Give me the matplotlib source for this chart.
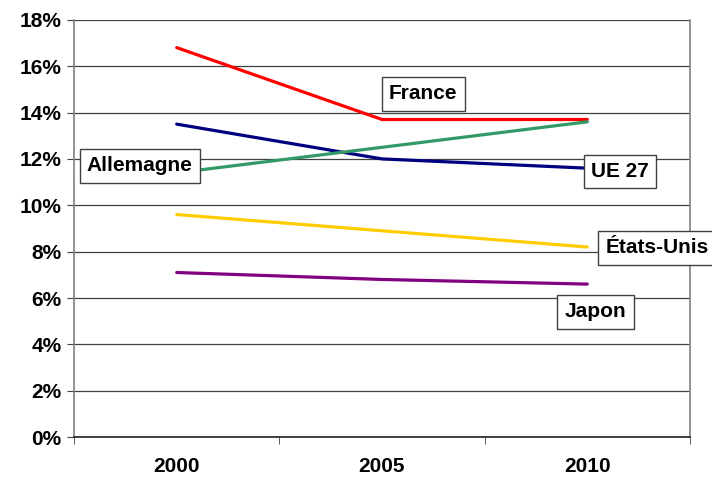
import matplotlib.pyplot as plt
from matplotlib.ticker import FixedLocator

plt.rcParams['font.family'] = ['Liberation Sans', 'DejaVu Sans']

years = ['2000', '2005', '2010']
france = [16.8, 13.7, 13.7]
ue27 = [13.5, 12.0, 11.6]
allemagne = [11.4, 12.5, 13.6]
etats_unis = [9.6, 8.9, 8.2]
japon = [7.1, 6.8, 6.6]

series = [
    ('France', france, '#FF0000'),
    ('UE 27', ue27, '#000080'),
    ('Allemagne', allemagne, '#339966'),
    ('États-Unis', etats_unis, '#FFCC00'),
    ('Japon', japon, '#800080'),
]

fig = plt.figure(figsize=(7.12, 4.83), dpi=100)
ax = fig.add_axes([0.104, 0.095, 0.865, 0.864])

x = list(range(len(years)))
for name, vals, col in series:
    ax.plot(x, vals, color=col, linewidth=2.3, solid_capstyle='round', zorder=3)

ax.set_xlim(-0.5, 2.5)
ax.set_ylim(0, 18)
ax.set_yticks(range(0, 19, 2))
ax.set_yticklabels([f'{v}%' for v in range(0, 19, 2)], fontsize=15, fontweight='bold')
ax.yaxis.grid(True, color='#404040', linewidth=0.9)
ax.set_axisbelow(True)

ax.set_xticks(x)
ax.set_xticklabels(years, fontsize=15, fontweight='bold')
ax.tick_params(axis='x', which='major', length=0, pad=14)
ax.xaxis.set_minor_locator(FixedLocator([-0.5, 0.5, 1.5, 2.5]))
ax.tick_params(axis='x', which='minor', length=5, direction='out', color='#404040')
ax.tick_params(axis='y', length=5, direction='out', color='#404040', pad=4)

ax.spines['top'].set_visible(False)
for s in ['left', 'bottom', 'right']:
    ax.spines[s].set_color('#808080')
    ax.spines[s].set_linewidth(1.2)
ax.spines['bottom'].set_color('#202020')

box = dict(boxstyle='square,pad=0.35', facecolor='white', edgecolor='#404040', linewidth=1)
labels = [
    ('Allemagne', -0.18, 11.7, 'center'),
    ('France', 1.20, 14.8, 'center'),
    ('UE 27', 2.16, 11.45, 'center'),
    ('États-Unis', 2.09, 8.16, 'left'),
    ('Japon', 2.04, 5.4, 'center'),
]
for txt, lx, ly, ha in labels:
    ax.text(lx, ly, txt, ha=ha, va='center', fontsize=15, fontweight='bold',
            bbox=box, zorder=5, clip_on=False)

fig.savefig('out.png', dpi=100)
